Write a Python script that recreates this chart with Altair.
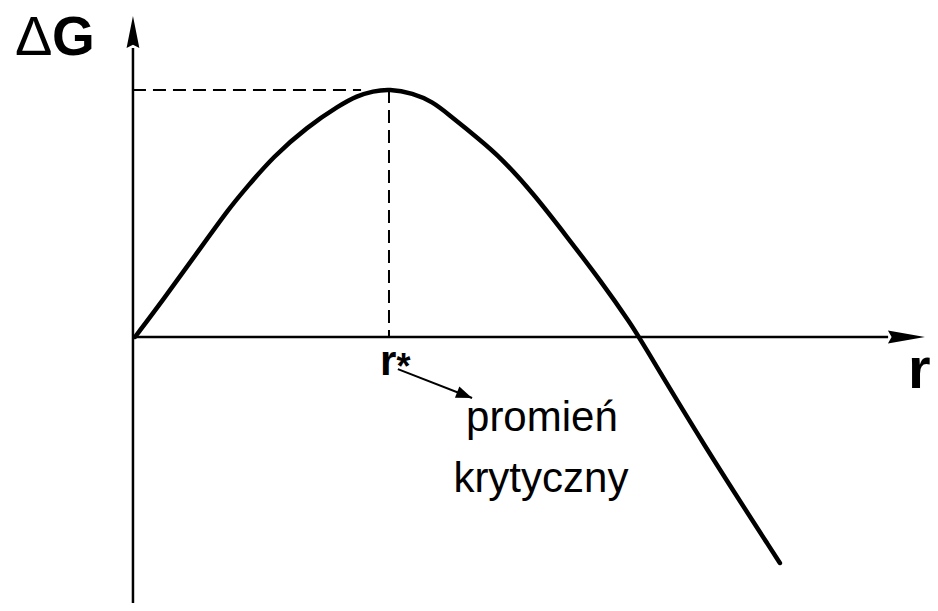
import math
import altair as alt
import pandas as pd

# ---- data (r in units of r*, dG in units of dG*) ----
curve_r = [0.0, 0.110, 0.244, 0.374, 0.441, 0.543, 0.677, 0.807, 0.874, 0.937,
           1.0, 1.094, 1.173, 1.228, 1.358, 1.437, 1.567, 1.701, 1.831, 1.961,
           1.984, 2.236, 2.539]
curve_g = [0.0, 0.150, 0.340, 0.526, 0.607, 0.729, 0.850, 0.939, 0.976, 0.995,
           1.004, 0.988, 0.951, 0.907, 0.798, 0.729, 0.583, 0.405, 0.231, 0.040,
           0.0, -0.433, -0.915]

r_star = 1.0
g_star = 1.0
dash_h_end = 0.89

x_axis_r = [0.0, 2.965]
x_arrow_tip = [3.11, 0.0]
y_axis_x = -0.008
y_axis_g = [-1.077, 1.17]
y_arrow_tip = [-0.008, 1.30]

note_arrow_from = [1.035, -0.130]
note_arrow_to = [1.327, -0.247]

label_text = ["Δ", "G", "r", "r", "*", "promień", "krytyczny"]
label_x = [-0.472, -0.327, 3.043, 0.965, 1.03, 1.602, 1.598]
label_y = [1.142, 1.142, -0.206, -0.154, -0.170, -0.381, -0.628]

X_DOM = [-0.5, 3.13]
Y_DOM = [-1.077, 1.332]
W, H = 922, 595

FONT = "Liberation Sans, Arial, Helvetica, sans-serif"
xs = alt.Scale(domain=X_DOM, nice=False, zero=False)
ys = alt.Scale(domain=Y_DOM, nice=False, zero=False)


def X(f="x"):
    return alt.X(f"{f}:Q", scale=xs, axis=None)


def Y(f="y"):
    return alt.Y(f"{f}:Q", scale=ys, axis=None)


curve = alt.Chart(pd.DataFrame({"x": curve_r, "y": curve_g})).mark_line(
    color="black", strokeWidth=4.5, interpolate="basis", strokeCap="round"
).encode(x=X(), y=Y())

axes_df = pd.DataFrame({
    "x": [x_axis_r[0], y_axis_x],
    "x2": [x_axis_r[1], y_axis_x],
    "y": [0.0, y_axis_g[0]],
    "y2": [0.0, y_axis_g[1]],
})
axes = alt.Chart(axes_df).mark_rule(color="black", strokeWidth=2.5).encode(
    x=X(), x2="x2:Q", y=Y(), y2="y2:Q"
)

dash_df = pd.DataFrame({
    "x": [y_axis_x, r_star],
    "x2": [dash_h_end, r_star],
    "y": [g_star, g_star],
    "y2": [g_star, 0.0],
})
dashes = alt.Chart(dash_df).mark_rule(
    color="black", strokeWidth=2, strokeDash=[13, 7]
).encode(x=X(), x2="x2:Q", y=Y(), y2="y2:Q")

x_head = alt.Chart(pd.DataFrame({"x": [x_arrow_tip[0]], "y": [x_arrow_tip[1]]})).mark_point(
    shape="M0,0L-2,-0.35L-1.8,0L-2,0.35Z", size=1369, filled=True, color="black", opacity=1
).encode(x=X(), y=Y())

y_head = alt.Chart(pd.DataFrame({"x": [y_arrow_tip[0]], "y": [y_arrow_tip[1]]})).mark_point(
    shape="M0,0L0.4,2L0,1.8L-0.4,2Z", size=1024, filled=True, color="black", opacity=1
).encode(x=X(), y=Y())

note_line = alt.Chart(pd.DataFrame({
    "x": [note_arrow_from[0]], "y": [note_arrow_from[1]],
    "x2": [note_arrow_to[0]], "y2": [note_arrow_to[1]],
})).mark_rule(color="black", strokeWidth=2).encode(x=X(), x2="x2:Q", y=Y(), y2="y2:Q")

px_per_x = W / (X_DOM[1] - X_DOM[0])
px_per_y = H / (Y_DOM[1] - Y_DOM[0])
dx = (note_arrow_to[0] - note_arrow_from[0]) * px_per_x
dy = -(note_arrow_to[1] - note_arrow_from[1]) * px_per_y
ang = math.degrees(math.atan2(dy, dx)) % 360

note_head = alt.Chart(pd.DataFrame({"x": [note_arrow_to[0]], "y": [note_arrow_to[1]]})).mark_point(
    shape="M0,0L-2,-0.75L-2,0.75Z", size=256, filled=True, color="black", opacity=1, angle=ang
).encode(x=X(), y=Y())

lab = pd.DataFrame({"x": label_x, "y": label_y, "t": label_text})


def text_layer(idx, size, weight, align="left"):
    return alt.Chart(lab.iloc[idx]).mark_text(
        align=align, baseline="alphabetic", fontSize=size, fontWeight=weight,
        font=FONT, color="black"
    ).encode(x=X(), y=Y(), text="t:N")


t_delta = text_layer([0], 56, "normal")
t_g = text_layer([1], 55, "bold")
t_r = text_layer([2], 58, "bold")
t_rs = text_layer([3], 42, "bold")
t_star = text_layer([4], 36, "bold")
t_note = text_layer([5, 6], 42, "normal", align="center")

chart = alt.layer(
    dashes, axes, x_head, y_head, curve, note_line, note_head,
    t_delta, t_g, t_r, t_rs, t_star, t_note
).properties(
    width=W, height=H, padding=0, autosize=alt.AutoSizeParams(type="none"),
    background="white"
).configure_view(strokeWidth=0)

chart.save("out.html", embed_options={"renderer": "svg", "actions": False})
